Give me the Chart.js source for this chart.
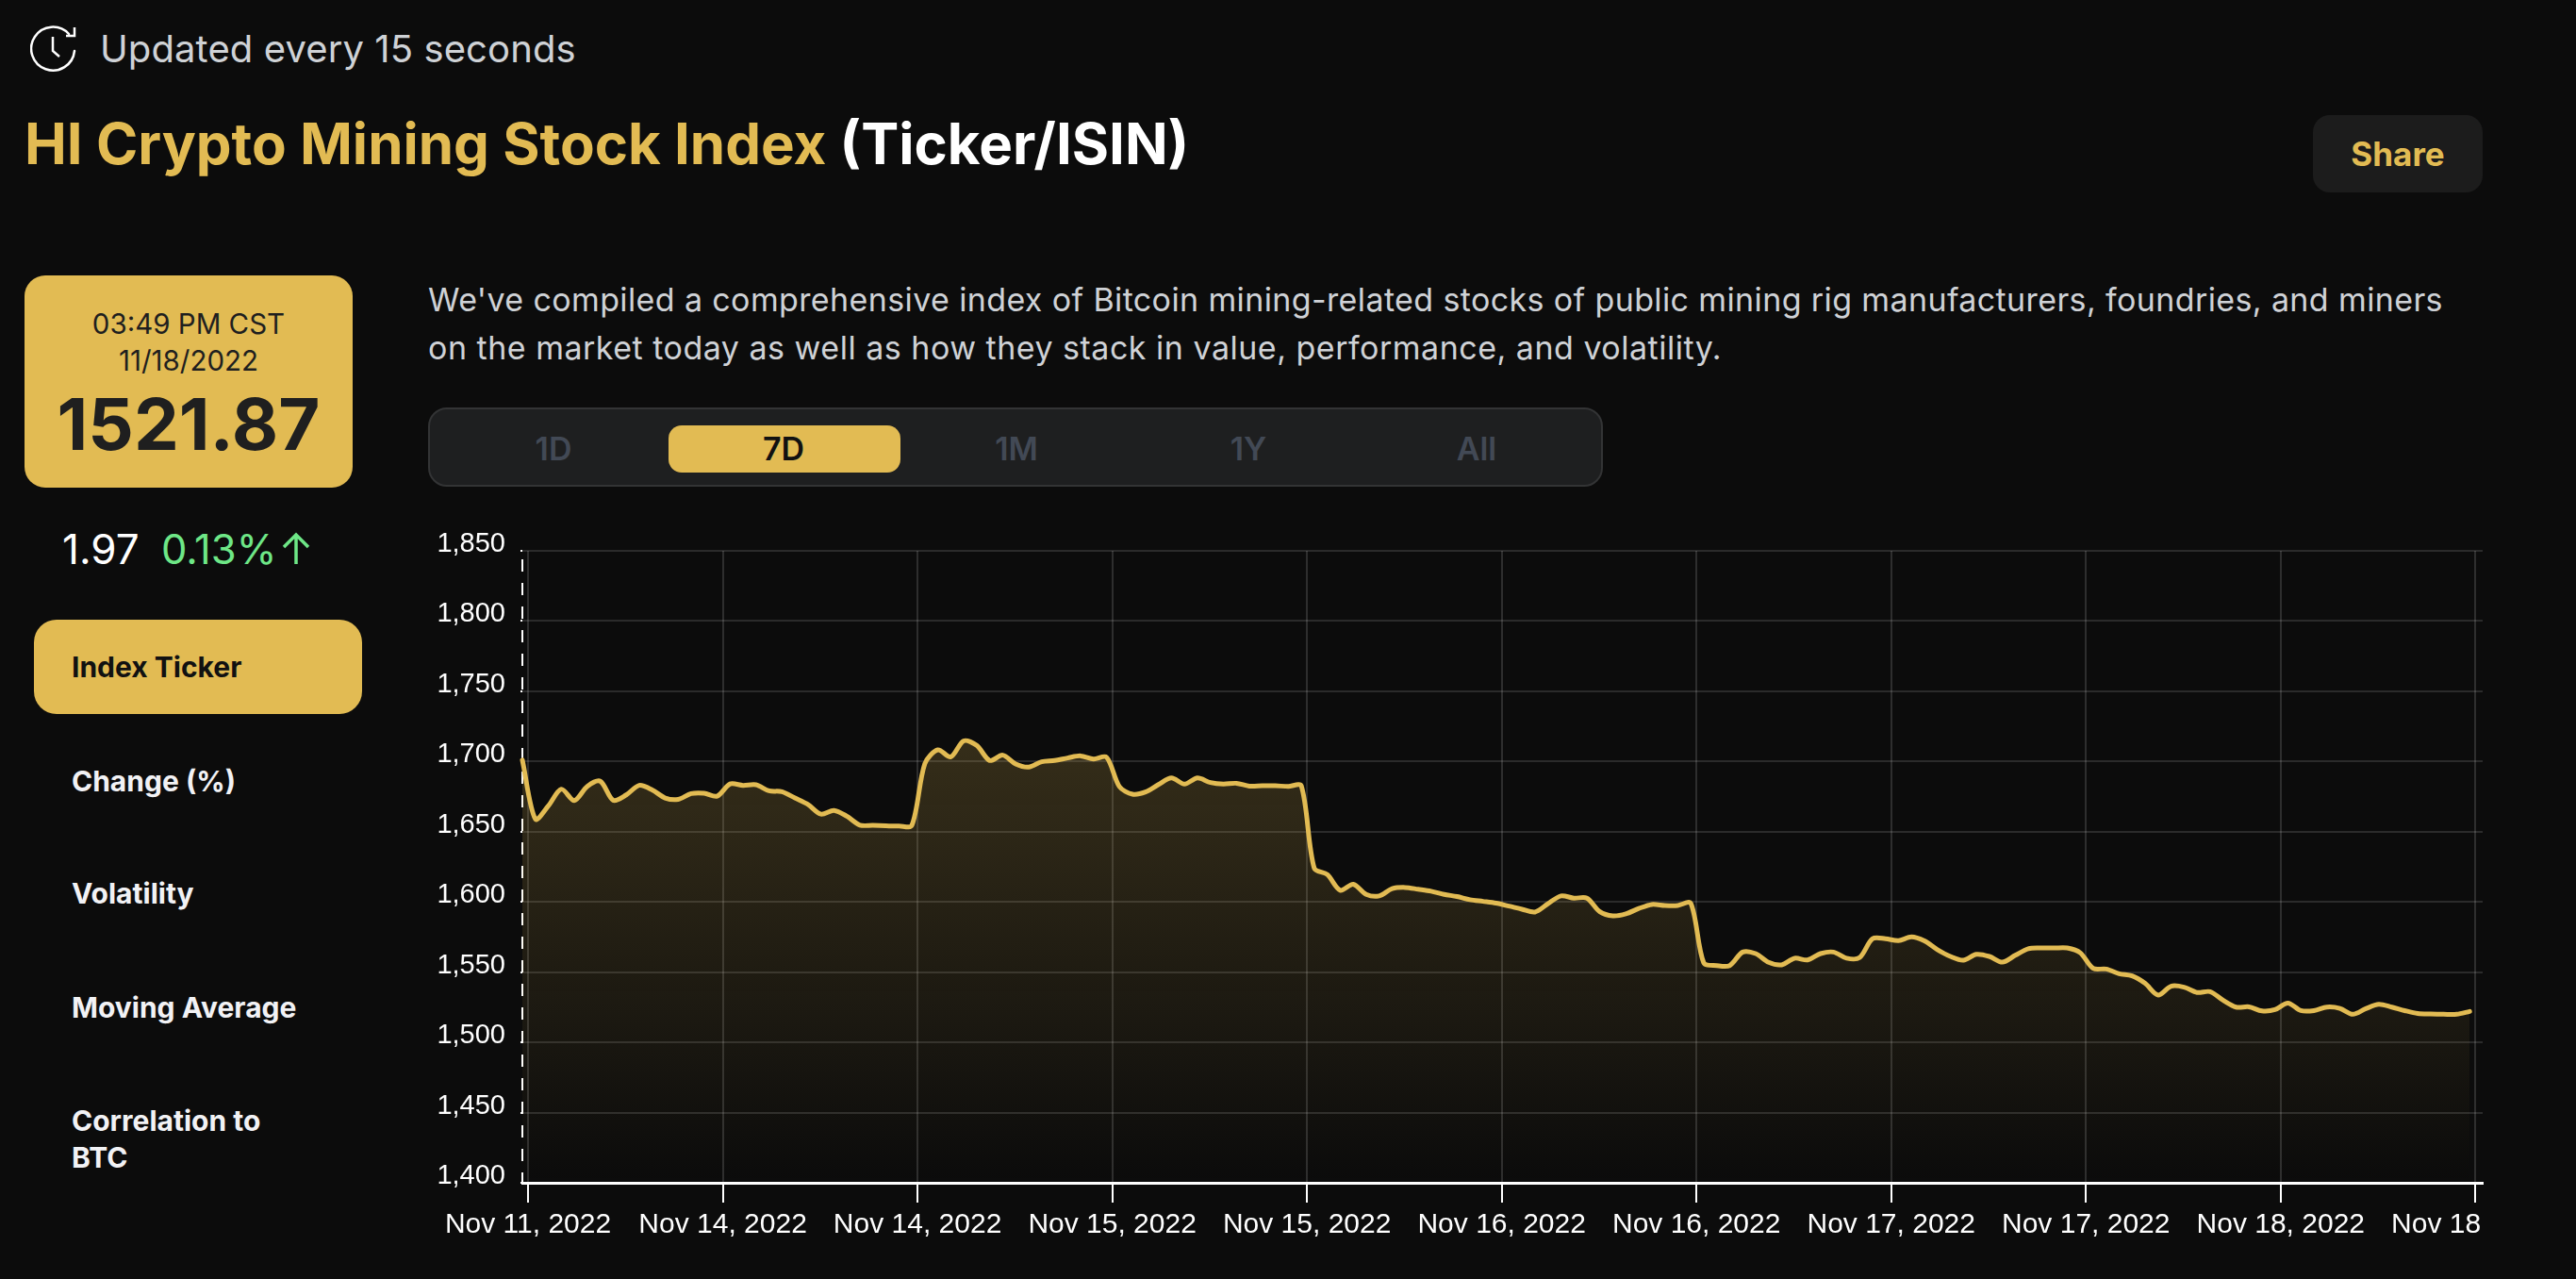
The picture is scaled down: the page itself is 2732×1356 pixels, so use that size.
<!DOCTYPE html>
<html>
<head>
<meta charset="utf-8">
<title>HI Crypto Mining Stock Index</title>
<script src="https://cdn.jsdelivr.net/npm/chart.js@4"></script>
<style>
  html, body { margin: 0; padding: 0; background: #0c0c0c; }
  body { width: 2732px; height: 1356px; position: relative; overflow: hidden; font-family: Inter, sans-serif; }
  .t { position: absolute; white-space: nowrap; }
  .box { position: absolute; box-sizing: border-box; }
  .tab { position: absolute; top: 434px; height: 84px; line-height: 84px; width: 200px; text-align: center; font-size: 34px; font-weight: 600; color: #424955; }
  .menu { position: absolute; left: 76px; font-size: 30px; line-height: 40px; font-weight: 700; color: #f2f2f5; white-space: nowrap; }
  #chartWrap { position: absolute; left: 440px; top: 540px; width: 2292px; height: 816px; }
</style>
</head>
<body>

<svg class="box" style="left:32px;top:26px" width="50" height="52" viewBox="0 0 50 52" fill="none" stroke="#fff" stroke-width="2.5">
  <path d="M41 10 A23 23 0 1 0 47 28" stroke-linecap="round"/>
  <path d="M47 3 V12 H38"/>
  <path d="M24 13 V28 L31 34"/>
</svg>
<div class="t" style="left:106px;top:28px;font-size:40px;line-height:48px;color:#cfd2d6;letter-spacing:0.1px">Updated every 15 seconds</div>

<div class="t" style="left:26px;top:116px;font-size:60px;line-height:72px;font-weight:700;color:#e2bb53">HI Crypto Mining Stock Index <span style="color:#fff">(Ticker/ISIN)</span></div>

<div class="box" style="left:2453px;top:122px;width:180px;height:82px;background:#1c1c1c;border-radius:18px;text-align:center;line-height:82px;font-size:35px;font-weight:700;color:#e2bb53">Share</div>

<div class="box" style="left:26px;top:292px;width:348px;height:225px;background:#e2bb53;border-radius:22px"></div>
<div class="t" style="left:26px;width:348px;top:323px;text-align:center;font-size:29.5px;line-height:40px;color:#1f1f1f">03:49 PM CST</div>
<div class="t" style="left:26px;width:348px;top:362px;text-align:center;font-size:29.5px;line-height:40px;color:#1f1f1f">11/18/2022</div>
<div class="t" style="left:26px;width:348px;top:404px;text-align:center;font-size:76px;line-height:90px;font-weight:700;color:#1f1f1f">1521.87</div>

<div class="t" style="left:66px;top:560px;font-size:44px;line-height:44px;color:#fff">1.97</div>
<div class="t" style="left:171px;top:560px;font-size:43.5px;line-height:44px;color:#6ee787">0.13%</div>
<svg class="box" style="left:298px;top:564px" width="32" height="36" viewBox="0 0 32 36" fill="none" stroke="#6ee787" stroke-width="3.5">
  <path d="M16 34 V4 M3 16 L16 3 L29 16"/>
</svg>

<div class="box" style="left:36px;top:657px;width:348px;height:100px;background:#e2bb53;border-radius:24px"></div>
<div class="menu" style="top:687px;color:#111">Index Ticker</div>
<div class="menu" style="top:808px">Change (%)</div>
<div class="menu" style="top:927px">Volatility</div>
<div class="menu" style="top:1048px">Moving Average</div>
<div class="menu" style="top:1168px">Correlation to</div>
<div class="menu" style="top:1207px">BTC</div>

<div class="t" style="left:454px;top:292px;font-size:34px;line-height:51px;color:#cfd2d6;letter-spacing:0.38px">We've compiled a comprehensive index of Bitcoin mining-related stocks of public mining rig manufacturers, foundries, and miners<br><span style="letter-spacing:0.5px">on the market today as well as how they stack in value, performance, and volatility.</span></div>

<div class="box" style="left:454px;top:432px;width:1246px;height:84px;background:#1e1f20;border:2px solid #333435;border-radius:20px"></div>
<div class="box" style="left:709px;top:451px;width:246px;height:50px;background:#e2bb53;border-radius:14px"></div>
<div class="tab" style="left:487px">1D</div>
<div class="tab" style="left:731px;color:#111">7D</div>
<div class="tab" style="left:978px">1M</div>
<div class="tab" style="left:1224px">1Y</div>
<div class="tab" style="left:1466px">All</div>

<div id="chartWrap"><canvas id="indexChart" width="2292" height="816"></canvas></div>

<script>
const tickLabels = ['Nov 11, 2022', 'Nov 14, 2022', 'Nov 14, 2022', 'Nov 15, 2022', 'Nov 15, 2022', 'Nov 16, 2022',
    'Nov 16, 2022', 'Nov 17, 2022', 'Nov 17, 2022', 'Nov 18, 2022', 'Nov 18'];

const indexValues = [
    1701, 1659, 1668.4, 1680.3, 1672.2, 1682.3, 1686, 1672.4, 1676.2, 1683,
    1679.8, 1674, 1673, 1677.1, 1677.4, 1675.3, 1684, 1683, 1683.4, 1679.1,
    1678.5, 1674, 1669.4, 1662.5, 1665.2, 1661, 1654.7, 1654.5, 1654.2, 1654,
    1654.5, 1698.4, 1708.3, 1703.3, 1714.7, 1711.4, 1700.7, 1704.5, 1698.2, 1696,
    1699.8, 1700.7, 1702.5, 1704, 1701.8, 1703, 1682, 1676.7, 1678.3, 1683.6,
    1688.3, 1683.9, 1688.3, 1685, 1683.9, 1684.5, 1682.5, 1682.7, 1682.7, 1682.3,
    1682.7, 1624, 1619.5, 1608.3, 1612.6, 1605.4, 1604.3, 1609.4, 1610.3, 1609,
    1607.6, 1605.4, 1603.8, 1601.6, 1600.4, 1599.1, 1597, 1594.8, 1592.8, 1598.7,
    1604.3, 1602.7, 1602.7, 1593, 1590.1, 1591.5, 1595.3, 1598.2, 1597.5, 1597.5,
    1599.1, 1556.7, 1554.7, 1554.7, 1564.3, 1563.2, 1557, 1555.2, 1559.9, 1558.7,
    1563.2, 1564.3, 1559.9, 1560.3, 1573.8, 1573.8, 1572.4, 1575.1, 1572.2, 1566,
    1561.2, 1558.5, 1562.7, 1561.2, 1557.1, 1562, 1566.7, 1567.2, 1567.2, 1567.2,
    1563.8, 1552.7, 1552.2, 1548.9, 1547.3, 1542, 1533.7, 1540, 1539.3, 1535.5,
    1536.1, 1530, 1525.1, 1525.3, 1522.4, 1523.3, 1528, 1522.6, 1522.6, 1525.1,
    1524.2, 1520, 1524, 1527.1, 1525.1, 1522.6, 1520.6, 1520.2, 1520, 1520,
    1522
];

const gold = '#e2bb53';

function fillGradient(context) {
    const { ctx, chartArea } = context.chart;
    if (!chartArea) {
        return null;
    }
    const gradient = ctx.createLinearGradient(0, chartArea.top, 0, chartArea.bottom);
    gradient.addColorStop(0, 'rgba(226, 187, 83, 0.28)');
    gradient.addColorStop(1, 'rgba(226, 187, 83, 0)');
    return gradient;
}

// border.dash only dashes the grid, so the left axis line gets its own dashes
const dashedYAxis = {
    id: 'dashedYAxis',
    beforeDatasetsDraw(chart) {
        const { ctx, chartArea } = chart;
        ctx.save();
        ctx.strokeStyle = '#ffffff';
        ctx.lineWidth = 2;
        ctx.setLineDash([13, 12]);
        ctx.lineDashOffset = 16;
        ctx.beginPath();
        ctx.moveTo(chartArea.left, chartArea.top);
        ctx.lineTo(chartArea.left, chartArea.bottom);
        ctx.stroke();
        ctx.restore();
    }
};

new Chart(document.getElementById('indexChart').getContext('2d'), {
    type: 'line',
    plugins: [dashedYAxis],
    data: {
        datasets: [{
            label: 'Index Ticker',
            data: indexValues.map((v, i) => ({ x: i, y: v })),
            borderColor: gold,
            borderWidth: 5,
            borderCapStyle: 'round',
            backgroundColor: fillGradient,
            fill: 'start',
            pointRadius: 0,
            tension: 0.3,
            clip: false
        }]
    },
    options: {
        responsive: false,
        animation: false,
        layout: { padding: { top: 44, right: 99, bottom: 0, left: 0 } },
        plugins: { legend: { display: false }, tooltip: { enabled: false } },
        scales: {
            x: {
                type: 'linear',
                min: 0,
                max: 151,
                // ticks sit a little right of the data points, one every 15 samples
                afterBuildTicks: scale => {
                    scale.ticks = tickLabels.map((_, i) => ({ value: 0.44 + i * 15 }));
                },
                afterFit: scale => { scale.height = 102; },
                grid: {
                    color: 'rgba(255, 255, 255, 0.14)',
                    lineWidth: 2,
                    tickColor: '#ffffff',
                    tickWidth: 2,
                    tickLength: 21
                },
                border: { color: '#ffffff', width: 3 },
                ticks: {
                    autoSkip: false,
                    maxRotation: 0,
                    padding: 6,
                    color: '#ffffff',
                    font: { family: '"Liberation Sans", Arial', size: 30 },
                    callback: (value, i) => i === tickLabels.length - 1
                        ? tickLabels[i] + ' '.repeat(10)
                        : tickLabels[i]
                }
            },
            y: {
                min: 1400,
                max: 1850,
                afterFit: scale => { scale.width = 114; },
                grid: {
                    color: 'rgba(255, 255, 255, 0.13)',
                    lineWidth: 2,
                    tickColor: '#ffffff',
                    tickWidth: 2,
                    tickLength: 2
                },
                border: { display: false },
                ticks: {
                    stepSize: 50,
                    padding: 16,
                    labelOffset: -7,
                    color: '#ffffff',
                    font: { family: '"Liberation Sans", Arial', size: 29 },
                    callback: value => value.toLocaleString('en-US')
                }
            }
        }
    }
});
</script>
</body>
</html>
